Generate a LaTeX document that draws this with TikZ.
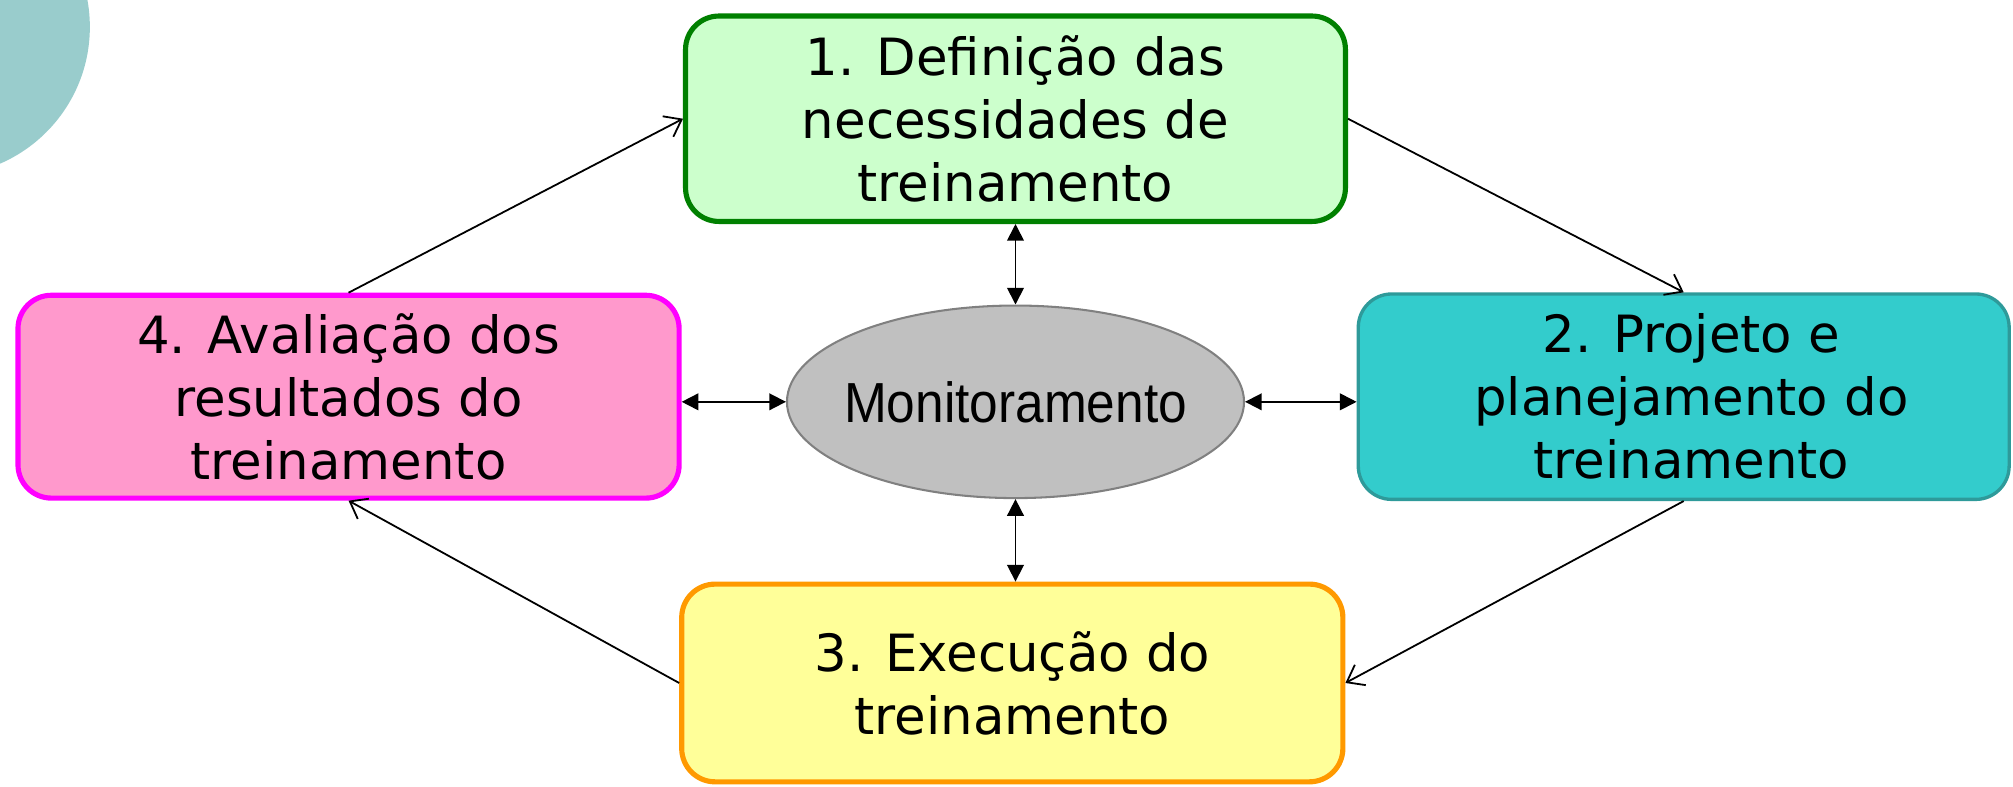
\documentclass[tikz,border=0pt]{standalone}
\usepackage{fontspec}
\usepackage[HTML]{xcolor}
\usetikzlibrary{positioning, arrows.meta, shapes.geometric}

\newfontfamily\boxfont{DejaVu Sans}
\newfontfamily\monfont[FakeStretch=0.91]{Liberation Sans}

\definecolor{verdeborda}{HTML}{008000}
\definecolor{verdefundo}{HTML}{CCFFCC}
\definecolor{tealborda}{HTML}{2E9A9A}
\definecolor{tealfundo}{HTML}{33CCCC}
\definecolor{amarelofundo}{HTML}{FFFF99}
\definecolor{laranjaborda}{HTML}{FF9900}
\definecolor{rosafundo}{HTML}{FF99CC}
\definecolor{magentaborda}{HTML}{FF00FF}
\definecolor{cinzafundo}{HTML}{C0C0C0}
\definecolor{cinzaborda}{HTML}{808080}
\definecolor{circulofundo}{HTML}{99CCCC}

\begin{document}
\begin{tikzpicture}[x=0.5pt, y=-0.5pt,
    etapa/.style={rectangle, rounded corners=13pt, align=center, inner sep=0pt,
                  font=\boxfont\fontsize{20}{24.5}\selectfont},
    ciclo/.style={-{Straight Barb[length=6pt, width=9pt]}, line width=0.7pt},
    duplo/.style={{Triangle[length=6.5pt, width=6.5pt]}-{Triangle[length=6.5pt, width=6.5pt]}, line width=0.7pt}]

    % page frame
    \useasboundingbox (0,0) rectangle (1568,613);

    % decorative circle in the corner
    \begin{scope}
        \clip (0,0) rectangle (1568,613);
        \fill[circulofundo] (-46,21) circle (58pt);
    \end{scope}

    % 1. Stages of the cycle
    \node (def) [etapa, draw=verdeborda, fill=verdefundo, line width=2pt,
                 minimum width=257pt, minimum height=80pt] at (791,92.5)
        {1. Definição das\\necessidades de\\treinamento};
    \node (proj) [etapa, draw=tealborda, fill=tealfundo, line width=1.3pt,
                  minimum width=253.5pt, minimum height=80pt] at (1311.5,309)
        {\hspace*{6pt}2. Projeto e\\\hspace*{6pt}planejamento do\\\hspace*{6pt}treinamento};
    \node (exe) [etapa, draw=laranjaborda, fill=amarelofundo, line width=2pt,
                 minimum width=257.5pt, minimum height=77pt] at (788.5,532)
        {\raisebox{-2pt}{3. Execução do}\\\raisebox{-2pt}{treinamento}};
    \node (ava) [etapa, draw=magentaborda, fill=rosafundo, line width=2pt,
                 minimum width=257.5pt, minimum height=79pt] at (271.5,309)
        {4. Avaliação dos\\resultados do\\treinamento};

    % Centre: monitoring
    \node (mon) [ellipse, draw=cinzaborda, fill=cinzafundo, line width=0.8pt,
                 inner xsep=-6pt, inner ysep=0pt,
                 minimum width=178pt, minimum height=75pt,
                 font=\monfont\fontsize{22}{26}\selectfont] at (791,313) {Monitoramento};

    % 2. Cycle arrows
    \draw[ciclo] (ava.north) -- (def.west);
    \draw[ciclo] (def.east) -- (proj.north);
    \draw[ciclo] (proj.south) -- (exe.east);
    \draw[ciclo] (exe.west) -- (ava.south);

    % Monitoring links
    \draw[duplo] (def.south) -- (mon.north);
    \draw[duplo] (mon.south) -- (mon.south |- exe.north);
    \draw[duplo] (ava.east |- mon.west) -- (mon.west);
    \draw[duplo] (mon.east) -- (mon.east -| proj.west);

\end{tikzpicture}
\end{document}
